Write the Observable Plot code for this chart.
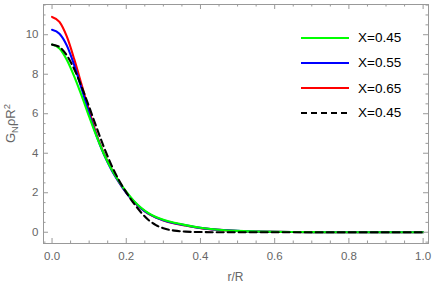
<!DOCTYPE html>
<html><head><meta charset="utf-8">
<script src="https://cdn.jsdelivr.net/npm/d3@7"></script>
<script src="https://cdn.jsdelivr.net/npm/@observablehq/plot@0.6"></script>
<style>
body{margin:0;background:#fff}
#wrap{position:relative;width:436px;height:284px;font-family:"Liberation Sans",Arial,sans-serif}
#legend{position:absolute;left:301px;top:0;font-size:13.5px;color:#000}
.li{position:absolute;left:0;display:flex;align-items:center;white-space:nowrap}
.li svg{display:block;margin-right:9px}
</style>
</head><body><div id="wrap"><div id="legend"></div></div>
<script>
// radial coordinate r/R
const r = [0,0.02,0.04,0.06,0.08,0.10,0.12,0.14,0.16,0.18,0.20,0.22,0.24,0.26,0.28,0.30,0.33,0.36,0.40,0.45,0.50,0.55,0.60,0.70,0.80,0.90,1.00];
// G_N rho R^2 values per series
const red   = [10.9,10.65,9.9,8.75,7.45,6.15,4.95,3.98,3.2,2.55,2.0,1.56,1.2,0.93,0.74,0.6,0.45,0.34,0.21,0.12,0.065,0.035,0.017,0.004,0,0,0];
const blue  = [10.25,10.05,9.45,8.45,7.25,6.0,4.88,3.93,3.17,2.55,2.0,1.57,1.21,0.94,0.75,0.61,0.46,0.35,0.22,0.125,0.068,0.037,0.018,0.004,0,0,0];
const green = [9.5,9.3,8.72,7.88,6.9,5.85,4.85,3.95,3.2,2.58,2.05,1.6,1.24,0.97,0.77,0.63,0.48,0.36,0.23,0.13,0.07,0.04,0.02,0.005,0,0,0];
const black = [9.5,9.38,8.95,8.25,7.35,6.35,5.3,4.3,3.4,2.65,2.02,1.47,1.0,0.62,0.36,0.2,0.08,0.03,0.01,0,0,0,0,0,0,0,0];

const legendLabels = ["X=0.45","X=0.55","X=0.65","X=0.45"];
const legendColors = ["#00ff00","#0000ff","#ff0000","#000000"];
const legendDash   = [null,null,null,"6,4"];

const xMajor = [0,0.2,0.4,0.6,0.8,1.0];
const xMajorLabels = ["0.0","0.2","0.4","0.6","0.8","1.0"];
const yMajor = [0,2,4,6,8,10];
const xMinor = d3.range(0,1.0001,0.05).filter(v => Math.abs(v*5-Math.round(v*5))>1e-6);
const yMinor = d3.range(-0.5,11.6,0.5).filter(v => Math.abs(v/2-Math.round(v/2))>1e-6);

const series = [
  {vals: red, color: "#ff0000", dash: null},
  {vals: blue, color: "#0000ff", dash: null},
  {vals: green, color: "#00ff00", dash: null},
  {vals: black, color: "#000000", dash: "7,4"}
];

const W = 436, H = 284, mL = 43, mR = 8, mT = 4, mB = 41;
const fW = W - mL - mR, fH = H - mT - mB;
const gray = "#999";

const marks = [];
for (const s of series) {
  marks.push(Plot.line(r, {x: d => d, y: (d, i) => s.vals[i], stroke: s.color, strokeWidth: 2.1,
    strokeDasharray: s.dash, curve: "monotone-x"}));
}
// inward frame ticks (Mathematica style)
for (const [ticks, len] of [[xMajor, 5], [xMinor, 2.5]]) {
  marks.push(Plot.tickX(ticks, {x: d => d, stroke: gray, insetTop: fH - len}));
  marks.push(Plot.tickX(ticks, {x: d => d, stroke: gray, insetBottom: fH - len}));
}
for (const [ticks, len] of [[yMajor, 5], [yMinor, 2.5]]) {
  marks.push(Plot.tickY(ticks, {y: d => d, stroke: gray, insetRight: fW - len}));
  marks.push(Plot.tickY(ticks, {y: d => d, stroke: gray, insetLeft: fW - len}));
}
marks.push(Plot.axisX(xMajor, {anchor: "bottom", tickSize: 0, tickPadding: 8, tickFormat: (d, i) => xMajorLabels[i], label: null, fill: "#666"}));
marks.push(Plot.axisY(yMajor, {anchor: "left", tickSize: 0, tickPadding: 5, label: null, fill: "#666"}));
marks.push(Plot.frame({stroke: gray}));

const svg = Plot.plot({
  width: W, height: H, marginLeft: mL, marginRight: mR, marginTop: mT, marginBottom: mB,
  x: {domain: [-0.023, 1.0145]},
  y: {domain: [-0.57, 11.53]},
  style: {fontFamily: "'Liberation Sans', Arial, sans-serif", fontSize: "11.5px", background: "#fff", color: "#666"},
  marks
});
const wrap = document.getElementById("wrap");
wrap.insertBefore(svg, wrap.firstChild);

// axis titles
const sel = d3.select(svg);
const cx = mL + fW / 2, cy = mT + fH / 2;
sel.append("text").attr("x", cx).attr("y", H - 3).attr("text-anchor", "middle")
  .attr("fill", "#666").attr("font-size", 12).text("r/R");
const yl = sel.append("text").attr("transform", `translate(15,${cy}) rotate(-90)`)
  .attr("text-anchor", "middle").attr("fill", "#666").attr("font-size", 13);
yl.append("tspan").text("G");
yl.append("tspan").attr("dy", 3).attr("font-size", 9.5).text("N");
yl.append("tspan").attr("dy", -3).text("ρR");
yl.append("tspan").attr("dy", -5).attr("font-size", 9.5).text("2");

// legend
const leg = d3.select("#legend");
const rowY = [37.5, 62.5, 88, 112.5];
legendLabels.forEach((lab, i) => {
  const row = leg.append("div").attr("class", "li").style("top", (rowY[i] - 9) + "px").style("height", "18px");
  const s = row.append("svg").attr("width", 48).attr("height", 6);
  s.append("line").attr("x1", 0).attr("x2", 48).attr("y1", 3).attr("y2", 3)
    .attr("stroke", legendColors[i]).attr("stroke-width", 2.1).attr("stroke-dasharray", legendDash[i]);
  row.append("span").text(lab);
});
</script>
</body></html>
